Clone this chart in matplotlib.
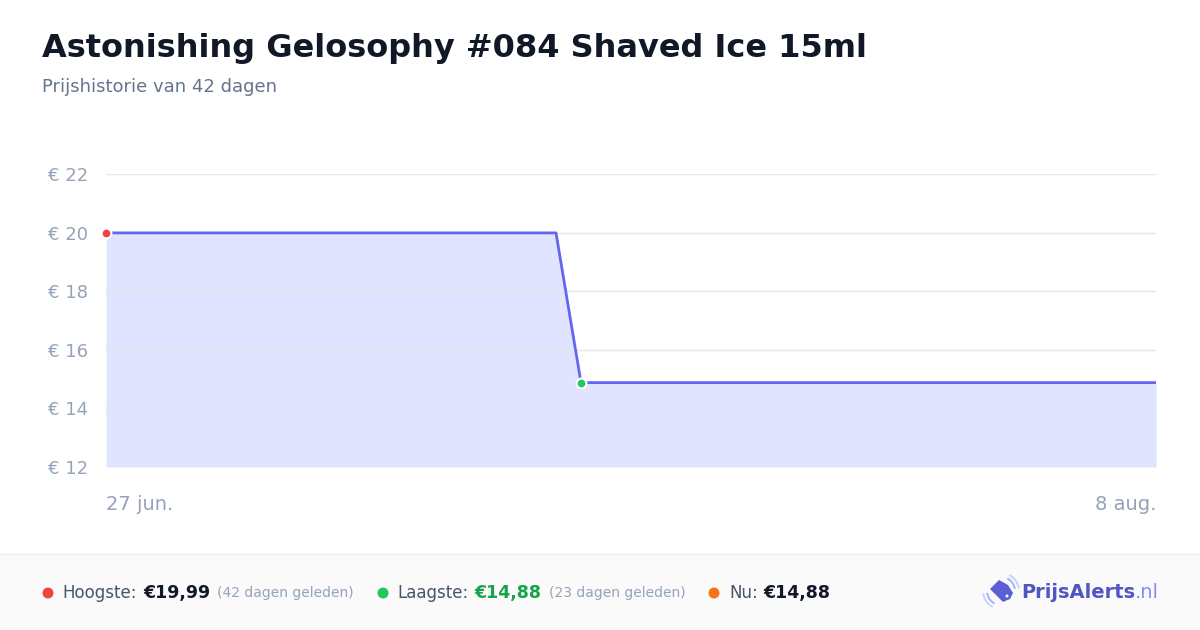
import matplotlib
matplotlib.use("Agg")
import matplotlib.pyplot as plt
from matplotlib.patches import Rectangle, Polygon, Arc, Ellipse
import datetime as dt

# ---- data ----
dates = ["2024-06-27", "2024-07-15", "2024-07-16", "2024-08-08"]
prices = [19.99, 19.99, 14.88, 14.88]
y_ticks = [12, 14, 16, 18, 20, 22]
x_tick_labels = ["27 jun.", "8 aug."]
title = "Astonishing Gelosophy #084 Shaved Ice 15ml"
subtitle = "Prijshistorie van 42 dagen"
high_label, high_value, high_note = "Hoogste:", "€19,99", "(42 dagen geleden)"
low_label, low_value, low_note = "Laagste:", "€14,88", "(23 dagen geleden)"
now_label, now_value = "Nu:", "€14,88"

x = [dt.datetime.strptime(d, "%Y-%m-%d") for d in dates]

W, H = 1200, 630
fig = plt.figure(figsize=(W / 100, H / 100), dpi=100)
fig.patch.set_facecolor("white")

def fx(px):
    return px / W

def fy(py):
    return 1 - py / H

# footer background
fig.patches.append(Rectangle((0, 0), 1, fy(554), transform=fig.transFigure,
                             facecolor="#fafafa", edgecolor="none", zorder=0))
fig.lines.append(plt.Line2D([0, 1], [fy(554), fy(554)], transform=fig.transFigure,
                            color="#eeeeee", lw=1))

# title
fig.text(fx(42), fy(48), title, fontsize=23, fontweight="bold", color="#111827",
         va="center", ha="left")
fig.text(fx(42), fy(87), subtitle, fontsize=13, color="#64748b", va="center", ha="left")

# axes
ax = fig.add_axes([fx(106), fy(467), fx(1156) - fx(106), fy(174) - fy(467)])
ax.set_facecolor("white")
ax.fill_between(x, prices, 12, color="#e0e4ff", zorder=1, linewidth=0)
ax.plot(x, prices, color="#6366f1", lw=2, zorder=3, solid_joinstyle="round")
ax.set_ylim(12, 22)
ax.set_xlim(x[0], x[-1])
ax.set_yticks(y_ticks)
ax.set_yticklabels([f"€ {v}" for v in y_ticks])
ax.grid(axis="y", color="#e5e7eb", lw=1, zorder=2)
ax.set_axisbelow(False)
for s in ax.spines.values():
    s.set_visible(False)
ax.tick_params(axis="y", length=0, pad=13, labelsize=13, labelcolor="#94a3b8")
ax.set_xticks([x[0], x[-1]])
ax.set_xticklabels(x_tick_labels)
ax.tick_params(axis="x", length=0, pad=20, labelsize=14, labelcolor="#94a3b8")
xl = ax.get_xticklabels()
xl[0].set_ha("left")
xl[1].set_ha("right")
ax.axhline(12, color="#e5e7eb", lw=1, zorder=2)

# markers
ax.scatter([x[0]], [prices[0]], s=50, color="#ef4444", edgecolor="white", lw=1.5,
           zorder=5, clip_on=False)
ax.scatter([x[2]], [prices[2]], s=50, color="#22c55e", edgecolor="white", lw=1.5,
           zorder=5, clip_on=False)

# footer legend
fy_t = fy(593)
kw = dict(transform=fig.transFigure, va="center", ha="left")
for px, c in [(48, "#ef4444"), (383, "#22c55e"), (714, "#f97316")]:
    fig.patches.append(Ellipse((fx(px), fy_t), 11 / W, 11 / H, transform=fig.transFigure,
                               facecolor=c, edgecolor="none"))

fig.text(fx(62), fy_t, high_label, fontsize=12, color="#475569", **kw)
fig.text(fx(143), fy_t, high_value, fontsize=12.5, fontweight="bold", color="#111827", **kw)
fig.text(fx(217), fy_t, high_note, fontsize=10, color="#94a3b8", **kw)
fig.text(fx(397), fy_t, low_label, fontsize=12, color="#475569", **kw)
fig.text(fx(474), fy_t, low_value, fontsize=12.5, fontweight="bold", color="#16a34a", **kw)
fig.text(fx(549), fy_t, low_note, fontsize=10, color="#94a3b8", **kw)
fig.text(fx(729), fy_t, now_label, fontsize=12, color="#475569", **kw)
fig.text(fx(763), fy_t, now_value, fontsize=12.5, fontweight="bold", color="#111827", **kw)

# logo icon
tag = [(990, 589), (999, 580), (1008, 585), (1013, 593), (1010, 599), (1003, 602)]
fig.patches.append(Polygon([(fx(a), fy(b)) for a, b in tag], closed=True,
                           transform=fig.transFigure, facecolor="#5b5fd6", edgecolor="none"))
fig.patches.append(Ellipse((fx(1007), fy(596)), 3 / W, 3 / H, transform=fig.transFigure,
                           facecolor="white", edgecolor="none"))
for r, col in [(28, "#a5b4fc"), (36, "#c7d2fe")]:
    fig.patches.append(Arc((fx(1001), fy(591)), r / W, r / H, theta1=15, theta2=75,
                           transform=fig.transFigure, color=col, lw=1.4))
    fig.patches.append(Arc((fx(1001), fy(591)), r / W, r / H, theta1=195, theta2=255,
                           transform=fig.transFigure, color=col, lw=1.4))
t1 = fig.text(fx(1021), fy_t, "PrijsAlerts", fontsize=14, fontweight="bold",
              color="#4f55c4", **kw)
fig.canvas.draw()
bb = t1.get_window_extent()
fig.text(bb.x1 / W, fy_t, ".nl", fontsize=14, color="#818cf8", **kw)

fig.savefig("out.png", dpi=100)
